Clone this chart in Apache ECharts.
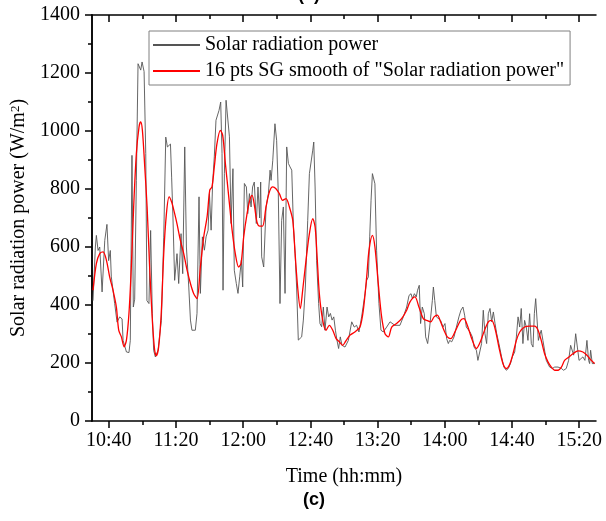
<!DOCTYPE html>
<html>
<head>
<meta charset="utf-8">
<script src="https://cdn.jsdelivr.net/npm/echarts@6/dist/echarts.min.js"></script>
<style>html,body{margin:0;padding:0;background:#fff;}#c{width:606px;height:521px;}</style>
</head>
<body>
<div id="c"></div>
<script>
// minutes after 10:30
const rawTime = [0.6,2.0,2.6,3.6,4.6,6.0,7.6,8.9,9.9,10.9,11.5,13.5,14.9,16.5,17.9,18.5,20.5,22.0,22.8,23.8,24.6,25.4,26.4,27.4,28.4,29.0,29.8,31.0,32.0,32.7,33.9,34.9,35.9,36.7,37.7,39.3,41.3,42.7,43.9,44.9,45.8,46.7,47.4,48.2,49.2,50.6,51.6,53.0,54.0,55.2,56.2,57.6,58.6,59.5,61.5,62.5,63.7,64.5,65.7,66.9,67.9,69.1,69.9,70.9,71.8,72.8,73.8,74.8,75.6,76.6,77.4,78.0,78.8,79.8,80.8,81.8,82.8,83.9,84.7,85.9,86.9,87.9,88.9,89.7,90.7,91.9,92.7,93.7,94.7,95.6,96.6,97.8,98.8,99.8,100.4,101.0,102.2,103.6,105.0,106.0,106.6,107.6,108.9,109.9,110.9,111.9,112.9,113.9,114.9,115.9,116.9,117.9,118.9,119.9,120.9,121.8,122.8,123.8,124.8,125.8,127.0,128.4,129.4,130.4,131.4,132.0,132.8,133.7,134.9,135.7,136.7,137.7,138.7,139.9,140.9,141.9,142.9,143.9,144.9,145.8,146.8,147.8,148.8,150.6,152.6,154.6,156.1,157.5,158.9,160.5,162.5,163.5,164.5,165.3,166.1,166.9,168.4,169.4,170.8,172.0,173.4,175.4,177.4,180.3,183.3,185.3,187.3,188.7,189.9,190.7,191.9,193.0,193.8,194.8,195.6,196.6,197.8,198.6,199.8,201.0,202.6,203.2,204.0,205.0,206.1,207.5,208.9,210.1,211.1,212.1,212.9,214.1,215.5,216.9,218.4,219.6,220.8,221.8,222.8,223.8,225.0,226.4,227.4,228.8,229.7,230.7,231.9,232.9,233.9,234.9,235.9,236.9,237.9,238.9,239.9,240.9,242.2,243.8,245.2,246.6,247.8,249.2,250.2,251.6,252.6,253.6,254.6,255.5,256.5,257.5,258.5,259.5,260.5,261.5,262.5,263.3,264.1,264.9,265.7,266.5,267.4,268.4,270.4,272.4,274.0,275.4,277.4,279.4,280.7,282.3,283.7,284.9,285.9,286.7,287.9,288.9,289.9,290.9,292.2,293.4,294.6,295.6,296.2,296.8,297.8,298.6,299.2];
const rawPower = [415,600,640,588,600,445,623,678,553,588,497,405,341,359,352,278,238,236,278,916,393,420,830,1232,1238,1210,1238,1205,922,415,405,657,370,244,221,244,347,634,979,945,950,955,841,700,485,577,474,646,508,945,600,462,348,313,313,371,773,440,635,589,635,658,784,658,819,911,1037,1043,1071,1100,922,451,853,1106,1106,980,681,870,520,474,440,497,554,462,819,807,715,784,738,807,824,681,807,700,824,566,531,738,784,865,830,899,1025,968,784,405,692,738,440,945,888,876,865,669,577,462,279,273,290,348,462,692,853,893,934,962,807,554,405,336,325,393,313,393,359,371,348,359,313,279,250,290,261,255,278,342,324,330,307,359,439,485,497,635,761,853,818,589,405,313,307,324,342,330,330,359,393,433,439,422,439,428,451,468,336,393,370,290,267,324,416,462,416,359,365,347,324,336,284,267,278,273,290,324,359,382,393,365,324,319,307,290,255,244,209,209,267,382,301,267,370,388,342,376,336,301,267,221,186,175,181,200,221,238,290,359,324,388,267,347,324,278,370,267,255,370,422,416,278,296,313,278,209,186,181,186,186,181,175,181,209,261,255,227,301,255,209,204,221,209,278,209,198,244,198,192,198];

const smoothTime = [0.6,2.6,4.6,6.6,8.6,10.5,12.5,14.5,15.9,17.5,19.1,20.5,22.0,23.4,24.8,26.4,28.0,29.0,30.0,31.4,32.8,34.3,35.9,37.3,38.3,39.7,41.3,42.7,44.3,45.9,47.4,49.2,50.6,52.6,54.6,56.6,58.6,60.5,62.5,64.5,66.5,68.5,70.1,71.4,72.8,74.4,76.4,77.8,79.4,81.4,83.4,85.3,87.3,88.7,90.3,92.3,93.9,95.3,96.8,98.2,99.8,101.5,103.6,105.6,107.6,109.5,111.5,113.5,115.5,117.5,119.5,120.9,122.4,124.0,125.4,127.4,129.4,131.4,132.8,133.9,135.3,137.3,139.3,141.3,143.3,145.3,147.2,149.2,151.0,153.6,156.5,159.5,161.5,163.5,164.9,166.9,168.4,170.4,172.4,174.4,176.4,178.4,181.3,184.3,187.3,189.3,192.2,194.6,197.2,199.2,201.6,203.6,205.5,207.5,209.5,211.5,213.5,216.5,219.4,221.4,223.4,226.4,228.8,230.7,233.3,235.9,237.9,239.9,242.2,244.6,246.6,248.6,250.6,252.6,254.6,257.5,260.5,263.5,265.5,267.4,269.4,271.4,273.4,275.4,277.4,279.4,281.3,283.9,286.3,289.3,292.2,294.6,297.2,299.2];
const smoothPower = [451,543,577,583,554,497,451,393,313,290,256,279,371,531,738,922,1014,1031,1002,876,738,531,348,244,225,256,382,577,715,773,755,715,680,623,577,520,474,440,422,531,635,704,796,807,876,957,1002,985,888,773,658,577,531,543,635,715,761,778,738,686,672,672,738,790,807,801,784,761,767,738,692,577,462,388,451,554,646,698,669,577,440,348,313,330,313,284,273,261,275,296,307,324,382,497,589,640,600,474,359,301,290,324,336,353,382,411,428,393,353,347,342,359,365,342,313,290,284,313,347,353,330,278,250,267,307,342,347,319,255,198,181,195,232,278,307,324,327,327,313,278,232,204,186,175,175,186,209,221,232,242,238,227,209,198];

const majorTicks = [10,50,90,130,170,210,250,290];
const minorTicks = [30,70,110,150,190,230,270];

const serif = 'Liberation Serif';
function fmt(v){ const t = Math.round(630 + v); const h = Math.floor(t/60), m = t % 60; return h + ':' + (m < 10 ? '0' : '') + m; }

const chart = echarts.init(document.getElementById('c'), null, {renderer:'canvas'});
const axLine = {show:true, lineStyle:{color:'#000', width:1.5}};
function xAx(pos, ticks, len, inside, line, labels){
  return {type:'value', min:0, max:300, position:pos,
    axisLine: line ? axLine : {show:false},
    axisTick:{show:true, inside:inside, length:len, customValues:ticks, lineStyle:{color:'#000', width:1.5}},
    axisLabel: labels ? {show:true, customValues:majorTicks, formatter:fmt, fontFamily:serif, fontSize:20, color:'#000', margin:10} : {show:false},
    splitLine:{show:false}};
}
const x0 = xAx('bottom', majorTicks, 7, false, true, true);
x0.name = 'Time (hh:mm)'; x0.nameLocation = 'middle'; x0.nameGap = 46;
x0.nameTextStyle = {fontFamily:serif, fontSize:20, color:'#000'};

chart.setOption({
  animation:false,
  backgroundColor:'#fff',
  grid: {left:92, right:10, top:15, bottom:100, outerBoundsMode:'none', containLabel:false},
  legend:{
    orient:'vertical', left:149, top:31, padding:[3,6,3,3], itemGap:4,
    itemWidth:47, itemHeight:14, borderColor:'#808080', borderWidth:1,
    itemStyle:{opacity:0},
    textStyle:{fontFamily:serif, fontSize:20, color:'#000', lineHeight:22},
    data:['Solar radiation power','16 pts SG smooth of "Solar radiation power"']
  },
  xAxis:[
    x0,
    xAx('bottom', minorTicks, 4, false, false, false),
    xAx('top', majorTicks, 7, true, true, false),
    xAx('top', minorTicks, 4, true, false, false)
  ],
  yAxis:[
    {type:'value', min:0, max:1400, interval:200, position:'left',
     axisLine:axLine,
     axisTick:{show:true, length:7, lineStyle:{color:'#000', width:1.5}},
     minorTick:{show:true, splitNumber:2, length:4, lineStyle:{color:'#000', width:1.5}},
     axisLabel:{fontFamily:serif, fontSize:20, color:'#000', margin:12, formatter:function(v){return String(v);}},
     splitLine:{show:false},
     name:'Solar radiation power (W/m{sup|2})', nameLocation:'middle', nameGap:60, nameRotate:90,
     nameTextStyle:{fontFamily:serif, fontSize:20, color:'#000',
       rich:{sup:{fontFamily:serif, fontSize:13, color:'#000', verticalAlign:'top', padding:[0,0,8,0]}}}
    },
    {type:'value', min:0, max:1400, interval:200, position:'right',
     axisLine:axLine,
     axisTick:{show:true, inside:true, length:7, lineStyle:{color:'#000', width:1.5}},
     minorTick:{show:true, splitNumber:2, length:4, lineStyle:{color:'#000', width:1.5}},
     axisLabel:{show:false}, splitLine:{show:false}}
  ],
  series:[
    {name:'Solar radiation power', type:'line', symbol:'none', xAxisIndex:0, yAxisIndex:0,
     data: rawTime.map((t,i)=>[t, rawPower[i]]),
     lineStyle:{color:'#555555', width:0.9}, itemStyle:{color:'#555555'}},
    {name:'16 pts SG smooth of "Solar radiation power"', type:'line', symbol:'none', xAxisIndex:0, yAxisIndex:0,
     smooth:0.3,
     data: smoothTime.map((t,i)=>[t, smoothPower[i]]),
     lineStyle:{color:'#ff0000', width:1.3}, itemStyle:{color:'#ff0000'}}
  ],
  graphic:[
    {type:'text', left:303, top:491, style:{text:'(c)', fontFamily:'Liberation Sans', fontWeight:'bold', fontSize:18, fill:'#000'}},
    {type:'text', left:298, top:-14, style:{text:'(c)', fontFamily:'Liberation Sans', fontWeight:'bold', fontSize:18, fill:'#000'}}
  ]
});
</script>
</body>
</html>
